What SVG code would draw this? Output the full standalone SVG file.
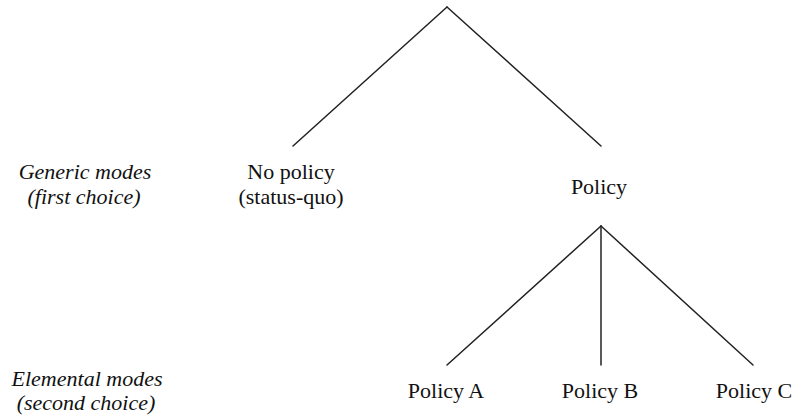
<svg xmlns="http://www.w3.org/2000/svg" width="794" height="419" viewBox="0 0 794 419">
<style>
.t{font-family:"Liberation Serif","Times New Roman",serif;font-size:22px;fill:#111;text-anchor:middle}
.i{font-style:italic}
.c{stroke:#222;stroke-width:1.5;fill:none;stroke-linecap:round}
</style>
<rect width="794" height="419" fill="#fff"/>
<g id="connectors">
<line class="c" x1="447" y1="7" x2="293" y2="146"/>
<line class="c" x1="447" y1="7" x2="601" y2="146"/>
<line class="c" x1="601" y1="226" x2="447" y2="365"/>
<line class="c" x1="601" y1="226" x2="601" y2="365"/>
<line class="c" x1="601" y1="226" x2="753" y2="365"/>
</g>
<g id="label-generic">
<text class="t i" x="85" y="179">Generic modes</text>
<text class="t i" x="84" y="204">(first choice)</text>
</g>
<g id="label-elemental">
<text class="t i" x="87" y="386">Elemental modes</text>
<text class="t i" x="86" y="410">(second choice)</text>
</g>
<g id="node-nopolicy">
<text class="t" x="291" y="179">No policy</text>
<text class="t" x="291" y="204">(status-quo)</text>
</g>
<g id="node-policy">
<text class="t" x="599" y="194">Policy</text>
</g>
<g id="node-policyA">
<text class="t" x="446" y="398">Policy A</text>
</g>
<g id="node-policyB">
<text class="t" x="600" y="398">Policy B</text>
</g>
<g id="node-policyC">
<text class="t" x="754" y="398">Policy C</text>
</g>
</svg>
